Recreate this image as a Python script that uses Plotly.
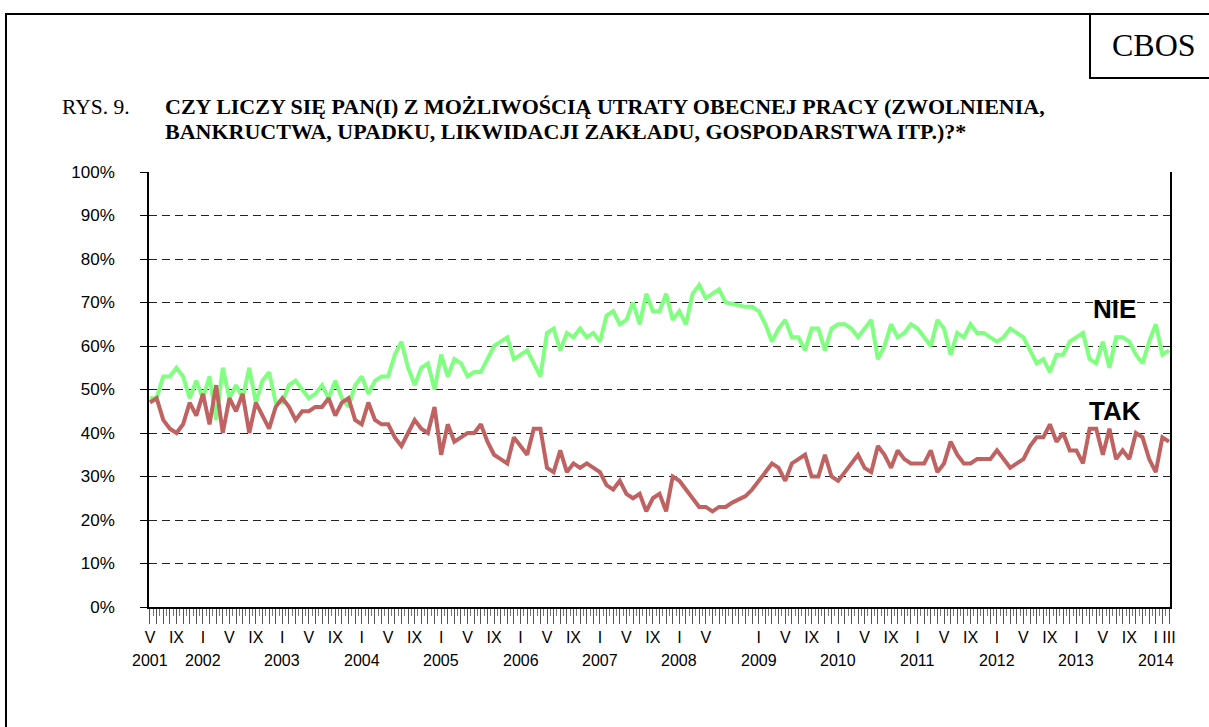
import plotly.graph_objects as go

# ---------------- data ----------------
ROMAN = ["I", "II", "III", "IV", "V", "VI", "VII", "VIII", "IX", "X", "XI", "XII"]
start_year, start_month, n_months = 2001, 5, 155

tak = [47, 48, 43, 41, 40, 42, 47, 44, 49, 42, 51, 40, 48, 45, 49, 40, 47, 44, 41, 46,
       48, 46, 43, 45, 45, 46, 46, 48, 44, 47, 48, 43, 42, 47, 43, 42, 42, 39, 37, 40,
       43, 41, 40, 46, 35, 42, 38, 39, 40, 40, 42, 38, 35, 34, 33, 39, 37, 35, 41, 41,
       32, 31, 36, 31, 33, 32, 33, 32, 31, 28, 27, 29, 26, 25, 26, 22, 25, 26, 22, 30,
       29, 27, 25, 23, 23, 22, 23, 23, 24, 24.7, 25.5, 27, 29, 31, 33, 32, 29, 33, 34, 35,
       30, 30, 35, 30, 29, 31, 33, 35, 32, 31, 37, 35, 32, 36, 34, 33, 33, 33, 36, 31,
       33, 38, 35, 33, 33, 34, 34, 34, 36, 34, 32, 33, 34, 37, 39, 39, 42, 38, 40, 36,
       36, 33, 41, 41, 35, 41, 34, 36, 34, 40, 39, 34, 31, 39, 38]

nie = [48, 48, 53, 53, 55, 53, 48, 52, 48, 53, 43, 55, 48, 51, 48, 55, 47, 52, 54, 47,
       47, 51, 52, 50, 48, 49, 51, 48, 52, 48, 46, 51, 53, 49, 52, 53, 53, 58, 61, 55,
       51, 55, 56, 50, 58, 53, 57, 56, 53, 54, 54, 57, 60, 61, 62, 57, 58, 59, 56, 53,
       63, 64, 59, 63, 62, 64, 62, 63, 61, 67, 68, 65, 66, 70, 65, 72, 68, 68, 72, 66,
       68, 65, 72, 74, 71, 72, 73, 70, 69.6, 69.2, 69, 69, 68, 65, 61, 64, 66, 62, 62, 59,
       64, 64, 59, 64, 65, 65, 64, 62, 64, 66, 57, 60, 65, 62, 63, 65, 64, 62, 60, 66,
       64, 58, 63, 62, 65, 63, 63, 62, 61, 62, 64, 63, 62, 59, 56, 57, 54, 58, 58, 61,
       62, 63, 57, 56, 61, 55, 62, 62, 61, 58, 56, 61, 65, 58, 59]

# months shown on the axis (month number), plus the year written below
label_months = [1, 5, 9]
hidden_labels = [(2008, 9)]
last_labels = [(2014, 3)]

# ---------------- categories ----------------
months = []
y, m = start_year, start_month
for _ in range(n_months):
    months.append((y, m))
    m += 1
    if m > 12:
        m = 1
        y += 1
idx = list(range(n_months))

tickvals, ticktext = [], []
year_pos, year_txt = [], []
for k, (yy, mm) in enumerate(months):
    tickvals.append(k)
    show = (mm in label_months and (yy, mm) not in hidden_labels) or (yy, mm) in last_labels
    ticktext.append(ROMAN[mm - 1] if show else "")
    if k == 0 or mm == 1:
        year_pos.append(k)
        year_txt.append(str(yy))

GREEN = "#80FF80"
RED = "#C06262"
SANS = "Liberation Sans, Arial"
SERIF = "Liberation Serif, Times New Roman"

fig = go.Figure()
fig.add_trace(go.Scatter(x=idx, y=nie, mode="lines", name="NIE",
                         line=dict(color=GREEN, width=4), showlegend=False))
fig.add_trace(go.Scatter(x=idx, y=tak, mode="lines", name="TAK",
                         line=dict(color=RED, width=4), showlegend=False))

W, H = 1209, 727
L, R, T, B = 149, 39, 172, 120
pw, ph = W - L - R, H - T - B


def px(xp):
    return (xp - L) / pw


def py(yp):
    return (H - B - yp) / ph


fig.update_layout(
    width=W, height=H,
    margin=dict(l=L, r=R, t=T, b=B, pad=0),
    paper_bgcolor="white", plot_bgcolor="white",
    font=dict(family=SANS, size=16, color="black"),
)
fig.update_xaxes(
    range=[-0.15, n_months - 1 + 0.15],
    tickmode="array", tickvals=tickvals, ticktext=ticktext,
    ticks="outside", ticklen=15, tickwidth=1, tickcolor="#555",
    minor=dict(tickmode="array", tickvals=[k + 0.5 for k in idx[:-1]],
               ticks="outside", ticklen=7, tickcolor="#777", tickwidth=1),
    showline=True, linecolor="black", linewidth=1.5, mirror=False,
    showgrid=False, zeroline=False,
    tickfont=dict(size=16, family=SANS),
    tickangle=0,
)
fig.update_yaxes(
    range=[0, 100], tickmode="array", tickvals=list(range(0, 101, 10)),
    ticktext=[f"{v}%" for v in range(0, 101, 10)],
    ticks="outside", ticklen=7, tickcolor="black",
    ticklabelstandoff=22,
    showline=True, linecolor="black", linewidth=1.5, mirror=True,
    showgrid=True, gridcolor="#222", gridwidth=1, griddash="8px,5px",
    zeroline=False,
    tickfont=dict(size=17, family=SANS),
)

ann = []
for xpos, t in zip(year_pos, year_txt):
    ann.append(dict(x=xpos, xref="x", y=py(660), yref="paper", text=t,
                    showarrow=False, xanchor="center", yanchor="middle",
                    font=dict(size=16, family=SANS)))
ann.append(dict(x=px(1114), y=py(309), xref="paper", yref="paper", text="<b>NIE</b>",
                showarrow=False, xanchor="center", yanchor="middle",
                font=dict(size=26, family=SANS)))
ann.append(dict(x=px(1115), y=py(411), xref="paper", yref="paper", text="<b>TAK</b>",
                showarrow=False, xanchor="center", yanchor="middle",
                font=dict(size=26, family=SANS)))
ann.append(dict(x=px(1154), y=py(45), xref="paper", yref="paper", text="CBOS",
                showarrow=False, xanchor="center", yanchor="middle",
                font=dict(size=32, family=SERIF)))
ann.append(dict(x=px(60), y=py(107), xref="paper", yref="paper", text="RYS. 9.",
                showarrow=False, xanchor="left", yanchor="middle",
                font=dict(size=21.5, family=SERIF)))
ann.append(dict(x=px(163), y=py(106.5), xref="paper", yref="paper",
                text="<b>CZY LICZY SIĘ PAN(I) Z MOŻLIWOŚCIĄ UTRATY OBECNEJ PRACY (ZWOLNIENIA,</b>",
                showarrow=False, xanchor="left", yanchor="middle",
                font=dict(size=22, family=SERIF)))
ann.append(dict(x=px(163), y=py(132), xref="paper", yref="paper",
                text="<b>BANKRUCTWA, UPADKU, LIKWIDACJI ZAKŁADU, GOSPODARSTWA ITP.)?*</b>",
                showarrow=False, xanchor="left", yanchor="middle",
                font=dict(size=22, family=SERIF)))
fig.update_layout(annotations=ann)

shapes = [
    dict(type="line", xref="paper", yref="paper", x0=px(5), x1=px(1212), y0=py(14), y1=py(14),
         line=dict(color="black", width=2)),
    dict(type="line", xref="paper", yref="paper", x0=px(6), x1=px(6), y0=py(13), y1=py(730),
         line=dict(color="black", width=2)),
    dict(type="line", xref="paper", yref="paper", x0=px(1090), x1=px(1090), y0=py(13), y1=py(79),
         line=dict(color="black", width=2)),
    dict(type="line", xref="paper", yref="paper", x0=px(1089), x1=px(1212), y0=py(78), y1=py(78),
         line=dict(color="black", width=2)),
]
fig.update_layout(shapes=shapes)

fig.write_html("out.html", config={"displayModeBar": False},
               post_script="document.body.style.margin='0';document.body.style.overflow='hidden';")
